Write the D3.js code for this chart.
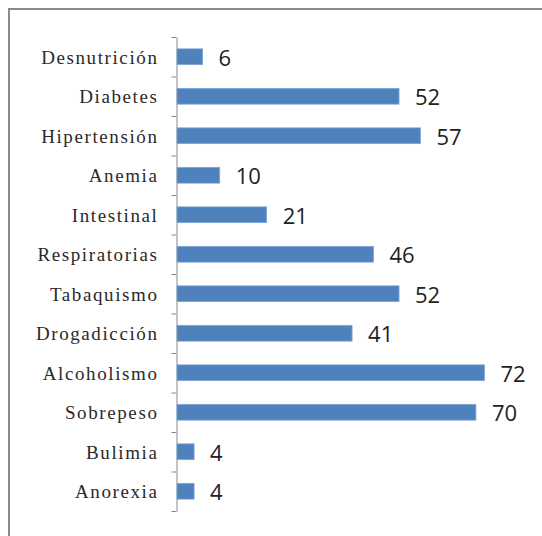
<!DOCTYPE html>
<html>
<head>
<meta charset="utf-8">
<script src="https://cdn.jsdelivr.net/npm/d3@7"></script>
<style>
  html, body { margin: 0; padding: 0; background: #fff; }
  svg { display: block; }
</style>
</head>
<body>
<div id="chart"></div>
<script>
// categories top to bottom, with their counts
const categories = ['Desnutrición', 'Diabetes', 'Hipertensión', 'Anemia', 'Intestinal',
  'Respiratorias', 'Tabaquismo', 'Drogadicción', 'Alcoholismo', 'Sobrepeso', 'Bulimia', 'Anorexia'];
const values = [6, 52, 57, 10, 21, 46, 52, 41, 72, 70, 4, 4];

(function() {
  'use strict';

  const width = 542, height = 536,
      top = 37, bottom = 511, axisX = 176.5;

  const svg = d3.select('#chart').append('svg')
    .attr('width', width)
    .attr('height', height);

  // outer frame (only top and left edges are visible)
  svg.append('path')
    .attr('d', `M9,${height} V9 H${width}`)
    .attr('fill', 'none')
    .attr('stroke', '#8a8a8a')
    .attr('stroke-width', 2);

  const data = categories.map((c, i) => ({ name: c, value: values[i] }));

  const y = d3.scaleBand()
    .domain(categories)
    .range([top, bottom])
    .paddingInner(0.6)
    .paddingOuter(0.3);

  const x = d3.scaleLinear()
    .domain([0, 80])
    .range([177, 177 + 80 * 4.27]);

  // category axis: ticks sit on the band boundaries
  const yEdges = d3.scaleLinear().domain([0, categories.length]).range([top, bottom]);
  const axis = svg.append('g')
    .attr('transform', `translate(${axisX},0)`)
    .call(d3.axisLeft(yEdges)
      .tickValues(d3.range(categories.length + 1))
      .tickFormat('')
      .tickSizeInner(5)
      .tickSizeOuter(0));
  axis.select('.domain').attr('stroke', '#8a8a8a');
  axis.selectAll('.tick line').attr('stroke', '#8a8a8a');

  // bars
  svg.selectAll('rect.bar')
    .data(data)
    .enter()
    .append('rect')
      .attr('class', 'bar')
      .attr('x', x(0))
      .attr('y', d => y(d.name))
      .attr('width', d => x(d.value) - x(0))
      .attr('height', y.bandwidth())
      .attr('fill', '#4f81bd')
      .attr('stroke', '#7fa6d6')
      .attr('stroke-width', 0.8);

  // category labels
  svg.selectAll('text.cat')
    .data(data)
    .enter()
    .append('text')
      .attr('class', 'cat')
      .attr('x', 158.5)
      .attr('y', d => y(d.name) + y.bandwidth() / 2)
      .attr('dy', '0.36em')
      .attr('text-anchor', 'end')
      .style('font-family', '"Liberation Serif", serif')
      .style('font-size', '19px')
      .style('letter-spacing', '1.6px')
      .style('fill', '#2a2a2a')
      .text(d => d.name);

  // value labels
  svg.selectAll('text.val')
    .data(data)
    .enter()
    .append('text')
      .attr('class', 'val')
      .attr('x', d => x(d.value) + 16)
      .attr('y', d => y(d.name) + y.bandwidth() / 2)
      .attr('dy', '0.42em')
      .style('font-family', '"Open Sans", sans-serif')
      .style('font-size', '22px')
      .style('fill', '#222')
      .text(d => d.value);
})();
</script>
</body>
</html>
